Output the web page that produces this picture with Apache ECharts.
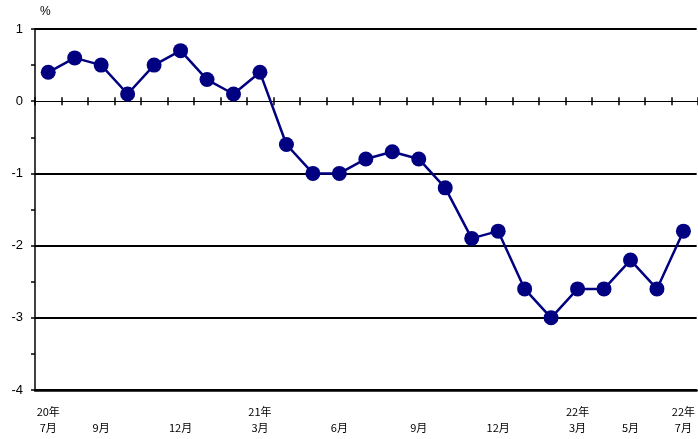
<!DOCTYPE html>
<html><head><meta charset="utf-8">
<script src="https://cdn.jsdelivr.net/npm/echarts@6/dist/echarts.min.js"></script>
<style>html,body{margin:0;padding:0;background:#fff}#c{width:698px;height:439px}</style>
</head><body><div id="c"></div>
<script>
const categories = ['20/7','20/8','20/9','20/10','20/11','20/12','21/1','21/2','21/3','21/4','21/5','21/6','21/7','21/8','21/9','21/10','21/11','21/12','22/1','22/2','22/3','22/4','22/5','22/6','22/7'];
const values = [0.4,0.6,0.5,0.1,0.5,0.7,0.3,0.1,0.4,-0.6,-1.0,-1.0,-0.8,-0.7,-0.8,-1.2,-1.9,-1.8,-2.6,-3.0,-2.6,-2.6,-2.2,-2.6,-1.8];
const tickLabels = ['20年\n7月','','\n9月','','','\n12月','','','21年\n3月','','','\n6月','','','\n9月','','','\n12月','','','22年\n3月','','\n5月','','22年\n7月'];
const yTicks = {min:-4, max:1, interval:1};

const chart = echarts.init(document.getElementById('c'));
const cjk = '"Noto Sans CJK JP","Noto Sans CJK SC",sans-serif';
const gridBox = {left:35, right:0, top:29, bottom:49, containLabel:false};
const zeroAxis = (pos) => ({
  type:'category', data:categories, position:pos, gridIndex:1,
  axisLine:{show:true, onZero:true, onZeroAxisIndex:1, lineStyle:{color:'#000', width:1}},
  axisTick:{show:true, interval:0, inside:false, length:4, lineStyle:{color:'#000', width:1.5}},
  axisLabel:{show:false, interval:0}, splitLine:{show:false}
});
chart.setOption({
  animation:false,
  grid:[gridBox, Object.assign({}, gridBox)],
  graphic:[{type:'text', left:40, top:6, style:{text:'%', font:'12px "Liberation Sans", Arial, sans-serif', fill:'#000'}}],
  xAxis:[
    {type:'category', data:tickLabels, position:'bottom', gridIndex:0,
     axisLine:{show:true, onZero:false, lineStyle:{color:'#000', width:2.5}},
     axisTick:{show:false},
     axisLabel:{interval:0, color:'#000', fontSize:11, fontFamily:cjk, lineHeight:16, margin:14},
     splitLine:{show:false}},
    zeroAxis('bottom'),
    zeroAxis('top')
  ],
  yAxis:[{type:'value', gridIndex:0, min:yTicks.min, max:yTicks.max, interval:yTicks.interval,
    axisLine:{show:true, lineStyle:{color:'#000', width:1.5}},
    axisTick:{show:true, length:4, lineStyle:{color:'#000', width:1.5}},
    minorTick:{show:true, splitNumber:2, length:4, lineStyle:{color:'#000', width:1.5}},
    axisLabel:{color:'#000', fontSize:13, fontFamily:'"Liberation Sans", Arial, sans-serif', margin:12},
    splitLine:{show:true, lineStyle:{color:['#000','#000','#000','#000','rgba(0,0,0,0)','#000'], width:2}}
  },
  {type:'value', gridIndex:1, min:yTicks.min, max:yTicks.max, interval:yTicks.interval,
    axisLine:{show:false}, axisTick:{show:false}, axisLabel:{show:false}, splitLine:{show:false}}],
  series:[{type:'line', data:values, xAxisIndex:0, yAxisIndex:0, symbol:'circle', symbolSize:15,
    lineStyle:{color:'#000080', width:2.5}, itemStyle:{color:'#000080'}, z:5}]
});
</script></body></html>
